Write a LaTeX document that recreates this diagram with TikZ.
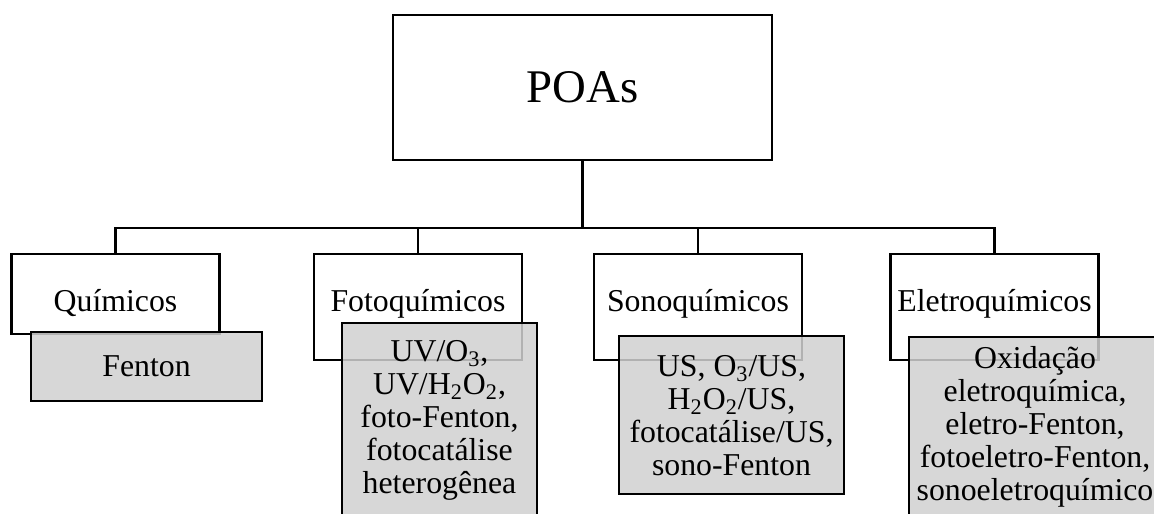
\documentclass[tikz,border=0pt]{standalone}
\usepackage{fontspec}
\setmainfont{Liberation Serif}
\usetikzlibrary{positioning}
\definecolor{greyish}{RGB}{208,208,208}

\begin{document}
\begin{tikzpicture}[
  x=0.5pt,
  y=-0.5pt,
  poabox/.style={
    draw,
    rectangle,
    fill=white,
    line width=1.2pt,
    minimum width=189.5pt,
    minimum height=72.5pt,
    inner sep=0pt,
    font=\fontsize{23.4}{26}\selectfont
  },
  classbox/.style={
    draw,
    rectangle,
    anchor=north,
    fill=white,
    line width=1.2pt,
    minimum width=104pt,
    inner sep=0pt,
    text height=28.5pt,
    text depth=#1,
    font=\fontsize{15.9}{16.5}\selectfont
  },
  procbox/.style={
    draw,
    rectangle,
    anchor=north,
    fill=greyish,
    fill opacity=0.85,
    text opacity=1,
    line width=1.2pt,
    inner sep=0pt,
    align=center,
    font=\fontsize{15.9}{16.5}\selectfont
  },
  link/.style={
    line width=1.2pt
  }
]
\clip (0,0) rectangle (1154,513);

% Root
\node[poabox] (poas) at (582.5,87.5) {POAs};

% Classes
\node[classbox=11.5pt] (quim) at (115.5,253) {Químicos};
\node[classbox=24.5pt] (foto) at (418,253) {Fotoquímicos};
\node[classbox=24.5pt] (sono) at (698,253) {Sonoquímicos};
\node[classbox=24.5pt] (elet) at (994.5,253) {Eletroquímicos};

% Processes
\node[procbox, minimum width=115.5pt, minimum height=34.5pt] (quimp) at (146.5,331) {Fenton};
\node[procbox, minimum width=97.5pt, minimum height=97pt] (fotop) at (439.5,322)
  {UV/O\textsubscript{3},\\UV/H\textsubscript{2}O\textsubscript{2},\\foto-Fenton,\\fotocatálise\\heterogênea};
\node[procbox, minimum width=112.5pt, minimum height=79pt] (sonop) at (731.5,335)
  {US, O\textsubscript{3}/US,\\H\textsubscript{2}O\textsubscript{2}/US,\\fotocatálise/US,\\sono-Fenton};
\node[procbox, minimum width=126pt, minimum height=90pt] (eletp) at (1035,336)
  {Oxidação\\eletroquímica,\\eletro-Fenton,\\fotoeletro-Fenton,\\sonoeletroquímico};

% Tree lines
\coordinate (bus) at (582.5,228);
\draw[link] (poas.south) -- (bus);
\draw[link] (quim.north) |- (elet.north |- bus) -- (elet.north);
\foreach \n in {foto,sono} {
  \draw[link] (\n.north) -- (\n.north |- bus);
}

\end{tikzpicture}
\end{document}
